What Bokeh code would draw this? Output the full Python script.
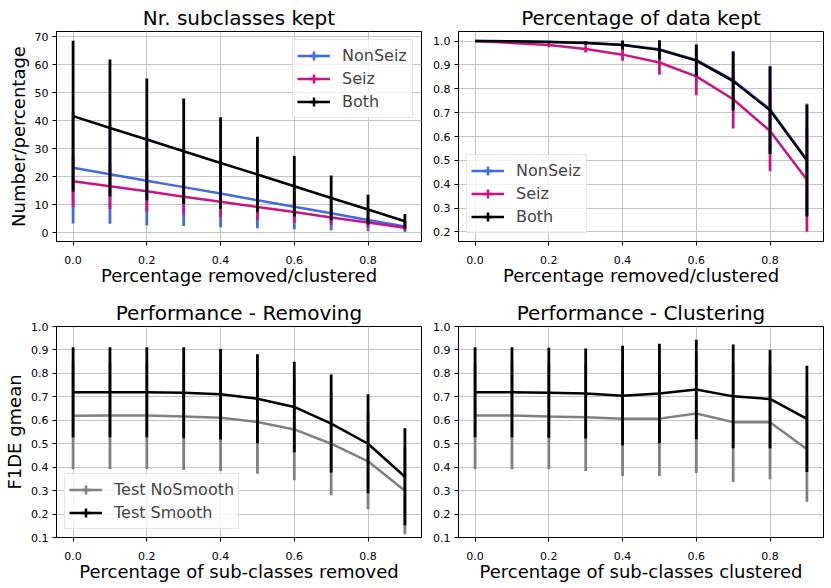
import numpy as np
from bokeh.plotting import figure
from bokeh.models import (ColumnDataSource, Range1d, FixedTicker, PrintfTickFormatter, Legend,
                          LegendItem)
from bokeh.layouts import column, row
from bokeh.embed import file_html
from bokeh.resources import INLINE

FONT = "DejaVu Sans"

# ---------------- data ----------------
frac = [0.0, 0.1, 0.2, 0.3, 0.4, 0.5, 0.6, 0.7, 0.8, 0.9]
x_ticks = [0.0, 0.2, 0.4, 0.6, 0.8]

# Nr. subclasses kept
sub_nonseiz_mean = [23.2, 20.9, 18.6, 16.3, 14.0, 11.6, 9.3, 7.0, 4.6, 2.3]
sub_nonseiz_std = [19.9, 17.7, 16.0, 13.9, 12.0, 10.0, 8.0, 6.1, 4.0, 2.0]
sub_seiz_mean = [18.4, 16.6, 14.8, 12.9, 11.1, 9.2, 7.4, 5.5, 3.7, 1.8]
sub_seiz_std = [9.0, 8.1, 7.2, 6.4, 5.5, 4.6, 3.7, 2.7, 1.8, 0.9]
sub_both_mean = [41.6, 37.4, 33.3, 29.1, 24.9, 20.8, 16.6, 12.4, 8.3, 4.1]
sub_both_std = [26.9, 24.4, 21.7, 18.8, 16.3, 13.5, 10.8, 8.0, 5.3, 2.6]
sub_yticks = [0, 10, 20, 30, 40, 50, 60, 70]

# Percentage of data kept
dat_nonseiz_mean = [1.0, 0.999, 0.997, 0.993, 0.985, 0.966, 0.921, 0.836, 0.714, 0.503]
dat_nonseiz_std = [0.0, 0.002, 0.004, 0.007, 0.017, 0.035, 0.067, 0.122, 0.182, 0.235]
dat_seiz_mean = [1.0, 0.992, 0.983, 0.967, 0.943, 0.910, 0.852, 0.756, 0.623, 0.419]
dat_seiz_std = [0.0, 0.004, 0.009, 0.015, 0.026, 0.050, 0.079, 0.122, 0.169, 0.218]
dat_both_mean = [1.0, 0.999, 0.996, 0.992, 0.983, 0.963, 0.918, 0.832, 0.710, 0.499]
dat_both_std = [0.0, 0.002, 0.004, 0.007, 0.018, 0.040, 0.066, 0.123, 0.183, 0.234]
dat_yticks = [0.2, 0.3, 0.4, 0.5, 0.6, 0.7, 0.8, 0.9, 1.0]

# Performance - Removing
rem_nosmooth_mean = [0.619, 0.620, 0.620, 0.616, 0.611, 0.593, 0.561, 0.500, 0.425, 0.299]
rem_nosmooth_std = [0.228, 0.228, 0.228, 0.228, 0.227, 0.221, 0.217, 0.220, 0.205, 0.185]
rem_smooth_mean = [0.720, 0.720, 0.720, 0.717, 0.711, 0.692, 0.657, 0.586, 0.500, 0.359]
rem_smooth_std = [0.192, 0.192, 0.192, 0.194, 0.193, 0.190, 0.193, 0.209, 0.211, 0.207]

# Performance - Clustering
clu_nosmooth_mean = [0.620, 0.620, 0.616, 0.613, 0.606, 0.607, 0.629, 0.592, 0.592, 0.476]
clu_nosmooth_std = [0.229, 0.229, 0.225, 0.229, 0.244, 0.245, 0.254, 0.255, 0.244, 0.223]
clu_smooth_mean = [0.720, 0.720, 0.717, 0.714, 0.705, 0.714, 0.731, 0.702, 0.691, 0.606]
clu_smooth_std = [0.192, 0.192, 0.192, 0.192, 0.213, 0.212, 0.212, 0.221, 0.210, 0.227]
perf_yticks = [0.1, 0.2, 0.3, 0.4, 0.5, 0.6, 0.7, 0.8, 0.9, 1.0]

BLUE = "#4169E1"
PINK = "#C71585"
BLACK = "#000000"
GRAY = "#808080"


def make_fig(title, w, h, bl, br, bt, bb, yr, yticks, yfmt, xlabel, ylabel=None):
    p = figure(width=w, height=h, output_backend="svg", toolbar_location=None,
               x_range=Range1d(-0.045, 0.945), y_range=Range1d(*yr),
               min_border_left=bl, min_border_right=br,
               min_border_top=bt, min_border_bottom=bb)
    p.title.text = title
    p.title.text_font = FONT
    p.title.text_font_size = "20px"
    p.title.text_font_style = "normal"
    p.title.text_line_height = 1.0
    p.title.align = "center"
    p.title.text_color = "black"
    p.title.standoff = 3
    p.outline_line_color = "black"
    p.outline_line_width = 1
    p.outline_line_alpha = 1
    p.background_fill_color = "white"
    p.border_fill_color = "white"
    p.xaxis.ticker = FixedTicker(ticks=x_ticks)
    p.xaxis.formatter = PrintfTickFormatter(format="%.1f")
    p.yaxis.ticker = FixedTicker(ticks=yticks)
    p.yaxis.formatter = PrintfTickFormatter(format=yfmt)
    for ax in (p.xaxis[0], p.yaxis[0]):
        ax.major_label_text_font = FONT
        ax.major_label_text_font_size = "11px"
        ax.major_label_text_line_height = 1.0
        ax.major_label_text_color = "black"
        ax.axis_label_text_font = FONT
        ax.axis_label_text_font_size = "18px"
        ax.axis_label_text_font_style = "normal"
        ax.axis_label_text_line_height = 1.0
        ax.axis_label_text_color = "black"
        ax.minor_tick_line_color = None
        ax.major_tick_in = 0
        ax.major_tick_out = 4
        ax.major_tick_line_color = "black"
        ax.axis_line_color = "black"
    p.xaxis.major_label_standoff = 10
    p.xaxis.axis_label_standoff = -2
    p.yaxis.major_label_standoff = 4
    p.yaxis.axis_label_standoff = 3
    p.xaxis.axis_label = xlabel
    if ylabel:
        p.yaxis.axis_label = ylabel
    for g in (p.xgrid[0], p.ygrid[0]):
        g.grid_line_color = "#c4c4c4"
        g.grid_line_width = 1
    return p


def series(p, mean, std, color):
    m = np.array(mean)
    s = np.array(std)
    src = ColumnDataSource(dict(x=frac, y=m, lo=m - s, hi=m + s))
    ln = p.line("x", "y", source=src, line_color=color, line_width=2.5)
    p.segment(x0="x", y0="lo", x1="x", y1="hi", source=src, line_color=color, line_width=2.8)
    # zero-size cross: draws nothing in the plot, gives the legend its error-bar tick
    mk = p.scatter("x", "y", source=src, marker="cross", size=0,
                   line_color=color, line_width=2.5, fill_color=None)
    return [ln, mk]


def add_legend(p, items, loc, lw):
    lg = Legend(items=[LegendItem(label=l, renderers=r) for l, r in items], location=loc)
    lg.label_text_font = FONT
    lg.label_text_font_size = "16px"
    lg.glyph_width = 33
    lg.glyph_height = 23
    lg.label_height = 23
    lg.label_width = lw
    lg.label_standoff = 12
    lg.spacing = 0
    lg.padding = 4
    lg.margin = 8
    lg.border_line_color = "#cccccc"
    lg.border_line_width = 1
    lg.background_fill_alpha = 0.8
    p.add_layout(lg)


# Panel 1
p1 = make_fig("Nr. subclasses kept", 425, 290, 56, 4, 31, 49, (-3.1, 71.8), sub_yticks, "%d",
              "Percentage removed/clustered", "Number/percentage")
r_ns = series(p1, sub_nonseiz_mean, sub_nonseiz_std, BLUE)
r_s = series(p1, sub_seiz_mean, sub_seiz_std, PINK)
r_b = series(p1, sub_both_mean, sub_both_std, BLACK)
add_legend(p1, [("NonSeiz", r_ns), ("Seiz", r_s), ("Both", r_b)], "top_right", 66)

# Panel 2
p2 = make_fig("Percentage of data kept", 405, 290, 33, 7, 31, 49, (0.16, 1.04), dat_yticks, "%.1f",
              "Percentage removed/clustered")
r_ns = series(p2, dat_nonseiz_mean, dat_nonseiz_std, BLUE)
r_s = series(p2, dat_seiz_mean, dat_seiz_std, PINK)
r_b = series(p2, dat_both_mean, dat_both_std, BLACK)
add_legend(p2, [("NonSeiz", r_ns), ("Seiz", r_s), ("Both", r_b)], "bottom_left", 66)

# Panel 3
p3 = make_fig("Performance - Removing", 425, 294, 56, 4, 36, 47, (0.1, 1.0), perf_yticks, "%.1f",
              "Percentage of sub-classes removed", "F1DE gmean")
r_n = series(p3, rem_nosmooth_mean, rem_nosmooth_std, GRAY)
r_sm = series(p3, rem_smooth_mean, rem_smooth_std, BLACK)
add_legend(p3, [("Test NoSmooth", r_n), ("Test Smooth", r_sm)], "bottom_left", 120)

# Panel 4
p4 = make_fig("Performance - Clustering", 405, 294, 33, 7, 36, 47, (0.1, 1.0), perf_yticks, "%.1f",
              "Percentage of sub-classes clustered")
series(p4, clu_nosmooth_mean, clu_nosmooth_std, GRAY)
series(p4, clu_smooth_mean, clu_smooth_std, BLACK)

layout = column(row(p1, p2), row(p3, p4))
open("out.html", "w").write(file_html(layout, INLINE))
